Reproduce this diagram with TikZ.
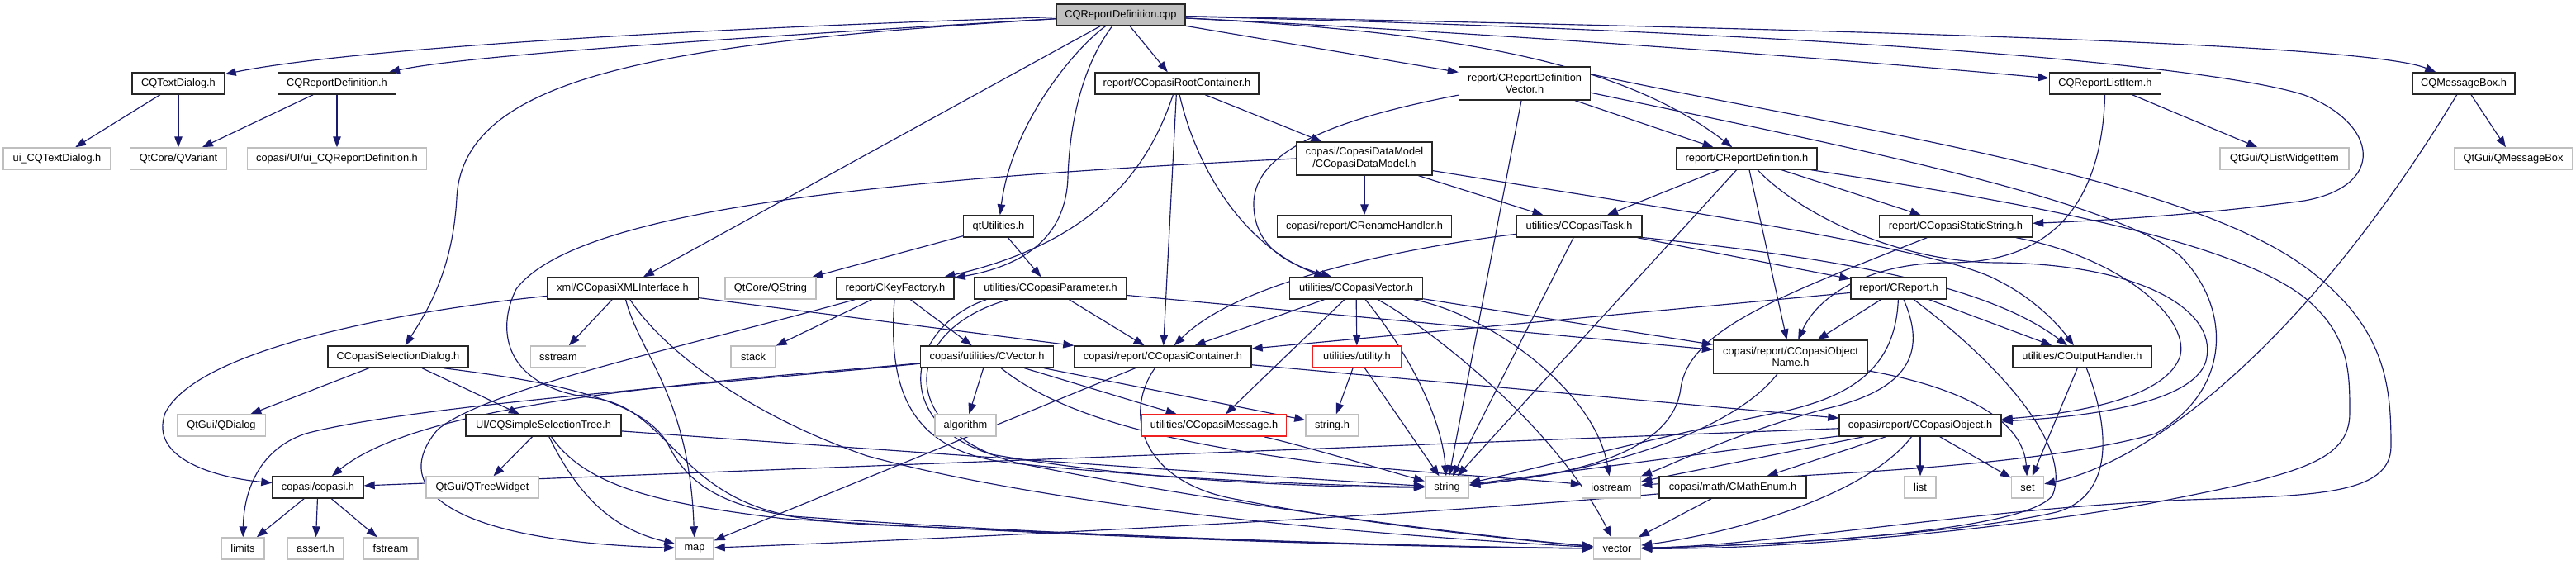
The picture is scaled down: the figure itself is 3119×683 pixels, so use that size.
\documentclass[tikz,border=0pt]{standalone}
\usepackage{fontspec}
\setmainfont{Liberation Sans}
\usetikzlibrary{arrows.meta}
\definecolor{edgeblue}{HTML}{191970}
\definecolor{extgray}{HTML}{BFBFBF}
\definecolor{rootfill}{HTML}{BFBFBF}
\definecolor{redbd}{HTML}{F02020}
\pgfdeclarelayer{background}
\pgfdeclarelayer{canvas}
\pgfsetlayers{canvas,background,main}
\begin{document}
\begin{tikzpicture}[x=1pt,y=-1pt,
  nd/.style={rectangle, inner sep=0pt, minimum height=26pt, fill=white, font=\fontsize{12.8}{14.7}\selectfont, align=center, line width=1.4pt},
  bx/.style={nd, draw=black!85},
  ext/.style={nd, draw=extgray},
  redbx/.style={nd, draw=redbd},
  rootbx/.style={nd, draw=black!85, fill=rootfill},
  tall/.style={minimum height=40pt},
  edg/.style={draw=edgeblue, line width=1.15pt, -{Triangle[length=13pt,width=9.5pt]}},
]
\begin{pgfonlayer}{canvas}
\fill[white] (0,0) rectangle (3119,683);
\end{pgfonlayer}
\useasboundingbox (0,0) rectangle (3119,683);

% row 0
\node[rootbx, minimum width=156pt] (cpp) at (1357,18) {CQReportDefinition.cpp};
% row 1
\node[bx, minimum width=112pt] (tdlg) at (216,101) {CQTextDialog.h};
\node[bx, minimum width=143pt] (rdefh) at (408,101) {CQReportDefinition.h};
\node[bx, minimum width=198pt] (rootc) at (1425,101) {report/CCopasiRootContainer.h};
\node[bx, tall, minimum width=159pt] (rdvec) at (1846,101) {report/CReportDefinition\\Vector.h};
\node[bx, minimum width=135pt] (rlist) at (2549,101) {CQReportListItem.h};
\node[bx, minimum width=124pt] (mbox) at (2983,101) {CQMessageBox.h};
% row 2
\node[ext, minimum width=130pt] (uitd) at (69,192) {ui\_CQTextDialog.h};
\node[ext, minimum width=117pt] (qvar) at (216,192) {QtCore/QVariant};
\node[ext, minimum width=217pt] (uird) at (408,192) {copasi/UI/ui\_CQReportDefinition.h};
\node[bx, tall, minimum width=164pt] (dm) at (1652,192) {copasi/CopasiDataModel\\/CCopasiDataModel.h};
\node[bx, minimum width=170pt] (rdef) at (2115,192) {report/CReportDefinition.h};
\node[ext, minimum width=156pt] (qlwi) at (2766,192) {QtGui/QListWidgetItem};
\node[ext, minimum width=143pt] (qmb) at (3043,192) {QtGui/QMessageBox};
% row 3
\node[bx, minimum width=85pt] (qtu) at (1209,274) {qtUtilities.h};
\node[bx, minimum width=211pt] (ren) at (1652,274) {copasi/report/CRenameHandler.h};
\node[bx, minimum width=152pt] (task) at (1912,274) {utilities/CCopasiTask.h};
\node[bx, minimum width=185pt] (sstr) at (2368,274) {report/CCopasiStaticString.h};
% row 4
\node[bx, minimum width=183pt] (xml) at (754,349) {xml/CCopasiXMLInterface.h};
\node[ext, minimum width=110pt] (qstr) at (933,349) {QtCore/QString};
\node[bx, minimum width=142pt] (kf) at (1084,349) {report/CKeyFactory.h};
\node[bx, minimum width=184pt] (par) at (1272,349) {utilities/CCopasiParameter.h};
\node[bx, minimum width=161pt] (cvec) at (1642,349) {utilities/CCopasiVector.h};
\node[bx, minimum width=116pt] (rep) at (2299,349) {report/CReport.h};
% row 5
\node[bx, minimum width=170pt] (sel) at (482,432) {CCopasiSelectionDialog.h};
\node[ext, minimum width=67pt] (sst) at (676,432) {sstream};
\node[ext, minimum width=54pt] (stack) at (912,432) {stack};
\node[bx, minimum width=161pt] (vecm) at (1195,432) {copasi/utilities/CVector.h};
\node[bx, minimum width=214pt] (cont) at (1408,432) {copasi/report/CCopasiContainer.h};
\node[redbx, minimum width=107pt] (util) at (1643,432) {utilities/utility.h};
\node[bx, tall, minimum width=187pt] (oname) at (2168,432) {copasi/report/CCopasiObject\\Name.h};
\node[bx, minimum width=168pt] (outh) at (2521,432) {utilities/COutputHandler.h};
% row 6
\node[ext, minimum width=107pt] (qdlg) at (268,515) {QtGui/QDialog};
\node[bx, minimum width=188pt] (sst2) at (658,515) {UI/CQSimpleSelectionTree.h};
\node[ext, minimum width=74pt] (algo) at (1169,515) {algorithm};
\node[redbx, minimum width=175pt] (msg) at (1470,515) {utilities/CCopasiMessage.h};
\node[ext, minimum width=64pt] (strh) at (1613,515) {string.h};
\node[bx, minimum width=196pt] (obj) at (2325,515) {copasi/report/CCopasiObject.h};
% row 7
\node[bx, minimum width=110pt] (copasi) at (385,590) {copasi/copasi.h};
\node[ext, minimum width=136pt] (qtw) at (584,590) {QtGui/QTreeWidget};
\node[ext, minimum width=53pt] (string) at (1752,590) {string};
\node[ext, minimum width=71pt] (ios) at (1951,590) {iostream};
\node[bx, minimum width=178pt] (menum) at (2098,590) {copasi/math/CMathEnum.h};
\node[ext, minimum width=38pt] (list) at (2325,590) {list};
\node[ext, minimum width=39pt] (set) at (2455,590) {set};
% row 8
\node[ext, minimum width=52pt] (limits) at (294,664) {limits};
\node[ext, minimum width=67pt] (assert) at (382,664) {assert.h};
\node[ext, minimum width=66pt] (fstream) at (473,664) {fstream};
\node[ext, minimum width=46pt] (map) at (841,664) {map};
\node[ext, minimum width=57pt] (vector) at (1958,664) {vector};

\begin{pgfonlayer}{background}
% from cpp
\draw[edg] (cpp) .. controls (800,36) and (420,60) .. (tdlg);
\draw[edg] (cpp) .. controls (850,48) and (560,68) .. (rdefh);
\draw[edg] (cpp) .. controls (800,52) and (560,92) .. (553,240) .. controls (548,330) and (515,380) .. (sel);
\draw[edg] (cpp) -- (xml);
\draw[edg] (cpp) .. controls (1300,60) and (1225,150) .. (qtu);
\draw[edg] (cpp) .. controls (1310,80) and (1295,150) .. (1293,215) .. controls (1290,300) and (1220,325) .. (kf);
\draw[edg] (cpp) -- (rootc);
\draw[edg] (cpp) -- (rdvec);
\draw[edg] (cpp) .. controls (1750,38) and (1960,72) .. (rdef);
\draw[edg] (cpp) .. controls (1900,45) and (2300,78) .. (rlist);
\draw[edg] (cpp) .. controls (2350,38) and (2870,55) .. (mbox);
\draw[edg] (cpp) .. controls (2250,40) and (2680,80) .. (2790,115) .. controls (2880,150) and (2890,225) .. (2790,243) .. controls (2650,262) and (2520,268) .. (sstr);
% level 1
\draw[edg] (tdlg) -- (uitd);
\draw[edg] (tdlg) -- (qvar);
\draw[edg] (rdefh) -- (qvar);
\draw[edg] (rdefh) -- (uird);
\draw[edg] (rootc) .. controls (1395,190) and (1340,290) .. (kf);
\draw[edg] (rootc) -- (cont);
\draw[edg] (rootc) -- (dm);
\draw[edg] (rootc) .. controls (1450,210) and (1510,300) .. (cvec.160);
\draw[edg] (rdvec) -- (rdef);
\draw[edg] (rdvec) -- (string);
\draw[edg] (rdvec.190) .. controls (1610,145) and (1515,185) .. (1518,250) .. controls (1520,300) and (1560,320) .. (cvec.155);
\draw[edg] (rdvec.8) .. controls (2200,150) and (2650,210) .. (2800,330) .. controls (2890,400) and (2895,470) .. (2895,540) .. controls (2895,600) and (2800,600) .. (2650,605) .. controls (2400,615) and (2150,660) .. (vector);
\draw[edg] (rdvec.352) .. controls (2200,170) and (2560,240) .. (2640,310) .. controls (2700,370) and (2705,470) .. (2610,525) .. controls (2450,570) and (2150,575) .. (ios);
\draw[edg] (rlist) -- (qlwi);
\draw[edg] (rlist) .. controls (2545,240) and (2490,318) .. (2360,318) .. controls (2260,318) and (2200,360) .. (oname);
\draw[edg] (mbox) -- (qmb);
\draw[edg] (mbox) .. controls (2790,420) and (2600,560) .. (set);
% level 2
\draw[edg] (dm) -- (ren);
\draw[edg] (dm) -- (task);
\draw[edg] (dm.350) .. controls (2000,250) and (2350,300) .. (2420,340) .. controls (2460,360) and (2490,390) .. (outh);
\draw[edg] (dm.west) .. controls (1100,215) and (700,250) .. (625,350) .. controls (600,400) and (610,470) .. (720,482) .. controls (810,495) and (820,600) .. (960,625) .. controls (1300,650) and (1700,662) .. (vector);
\draw[edg] (rdef) -- (task);
\draw[edg] (rdef) -- (string);
\draw[edg] (rdef) -- (oname);
\draw[edg] (rdef) -- (sstr);
\draw[edg] (rdef) .. controls (2180,260) and (2300,318) .. (2420,318) .. controls (2600,320) and (2690,380) .. (2670,440) .. controls (2650,490) and (2520,505) .. (obj);
\draw[edg] (rdef.350) .. controls (2450,245) and (2700,290) .. (2790,360) .. controls (2845,405) and (2845,450) .. (2845,500) .. controls (2845,560) and (2780,575) .. (2600,610) .. controls (2400,645) and (2150,665) .. (vector);
% level 3
\draw[edg] (qtu) -- (qstr);
\draw[edg] (qtu) -- (par);
\draw[edg] (task) .. controls (1700,300) and (1500,340) .. (cont);
\draw[edg] (task) -- (string);
\draw[edg] (task) -- (rep);
\draw[edg] (task.350) .. controls (2200,310) and (2400,340) .. (outh);
\draw[edg] (sstr) .. controls (2560,310) and (2650,380) .. (2640,430) .. controls (2625,480) and (2520,500) .. (obj);
\draw[edg] (sstr) .. controls (2150,360) and (2045,400) .. (2035,470) .. controls (2025,550) and (1900,575) .. (string);
% level 4
\draw[edg] (xml) -- (sst);
\draw[edg] (xml) .. controls (500,375) and (240,420) .. (200,500) .. controls (180,555) and (260,578) .. (copasi);
\draw[edg] (xml) -- (cont);
\draw[edg] (xml) .. controls (775,430) and (835,480) .. (map);
\draw[edg] (xml) .. controls (800,420) and (900,500) .. (1050,552) .. controls (1300,620) and (1700,650) .. (vector);
\draw[edg] (kf) -- (stack);
\draw[edg] (kf) -- (vecm);
\draw[edg] (kf) .. controls (830,420) and (590,470) .. (530,520) .. controls (470,590) and (540,655) .. (map);
\draw[edg] (kf) .. controls (1075,470) and (1100,545) .. (1220,560) .. controls (1400,580) and (1620,588) .. (string);
\draw[edg] (par) -- (cont);
\draw[edg] (par) -- (oname);
\draw[edg] (par.190) .. controls (1100,395) and (1075,510) .. (1200,550) .. controls (1400,585) and (1620,590) .. (string);
\draw[edg] (par.195) .. controls (1090,400) and (1085,520) .. (1230,560) .. controls (1500,615) and (1800,650) .. (vector);
\draw[edg] (cvec) -- (util);
\draw[edg] (cvec) -- (cont);
\draw[edg] (cvec) -- (msg);
\draw[edg] (cvec) -- (oname);
\draw[edg] (cvec) .. controls (1700,420) and (1745,500) .. (string);
\draw[edg] (cvec) .. controls (1720,390) and (1880,510) .. (vector);
\draw[edg] (cvec) .. controls (1800,380) and (1930,470) .. (ios);
\draw[edg] (rep) -- (cont);
\draw[edg] (rep) -- (oname);
\draw[edg] (rep) -- (outh);
\draw[edg] (rep) .. controls (2295,440) and (2250,480) .. (2150,500) .. controls (2000,530) and (1850,570) .. (string);
\draw[edg] (rep) .. controls (2330,420) and (2320,470) .. (2210,495) .. controls (2100,525) and (2030,560) .. (ios);
\draw[edg] (rep) .. controls (2420,440) and (2510,540) .. (2485,600) .. controls (2450,645) and (2150,660) .. (vector);
% level 5
\draw[edg] (sel) -- (qdlg);
\draw[edg] (sel) -- (sst2);
\draw[edg] (sel.-14) .. controls (650,460) and (780,480) .. (810,540) .. controls (840,600) and (900,625) .. (1050,635) .. controls (1400,650) and (1700,662) .. (vector);
\draw[edg] (vecm) -- (algo);
\draw[edg] (vecm) -- (msg);
\draw[edg] (vecm) -- (strh);
\draw[edg] (vecm) .. controls (900,460) and (520,480) .. (copasi);
\draw[edg] (vecm) .. controls (900,462) and (500,490) .. (370,525) .. controls (310,545) and (295,600) .. (limits);
\draw[edg] (vecm) .. controls (1280,500) and (1400,535) .. (1600,560) .. controls (1750,575) and (1850,580) .. (ios);
\draw[edg] (cont) -- (map);
\draw[edg] (cont) .. controls (1360,500) and (1380,585) .. (1500,605) .. controls (1650,635) and (1850,655) .. (vector);
\draw[edg] (cont) -- (obj);
\draw[edg] (util) -- (strh);
\draw[edg] (util) -- (string);
\draw[edg] (oname) .. controls (2100,520) and (1950,570) .. (string);
\draw[edg] (oname) .. controls (2380,470) and (2450,510) .. (set);
\draw[edg] (outh) -- (set);
\draw[edg] (outh) .. controls (2555,520) and (2560,600) .. (2490,620) .. controls (2380,645) and (2150,660) .. (vector);
% level 6
\draw[edg] (sst2) -- (qtw);
\draw[edg] (sst2) .. controls (700,600) and (740,640) .. (map);
\draw[edg] (sst2) .. controls (710,590) and (800,610) .. (950,628) .. controls (1300,650) and (1700,663) .. (vector);
\draw[edg] (sst2) .. controls (1000,540) and (1500,575) .. (string);
\draw[edg] (msg) .. controls (1580,540) and (1680,570) .. (string);
\draw[edg] (obj) -- (copasi);
\draw[edg] (obj) -- (string);
\draw[edg] (obj) -- (ios);
\draw[edg] (obj) -- (menum);
\draw[edg] (obj) -- (list);
\draw[edg] (obj) -- (set);
\draw[edg] (obj) .. controls (2260,600) and (2100,645) .. (vector);
% level 7
\draw[edg] (copasi) -- (limits);
\draw[edg] (copasi) -- (assert);
\draw[edg] (copasi) -- (fstream);
\draw[edg] (menum) -- (vector);
\draw[edg] (menum) .. controls (1700,625) and (1200,650) .. (map);
\end{pgfonlayer}
\end{tikzpicture}
\end{document}
